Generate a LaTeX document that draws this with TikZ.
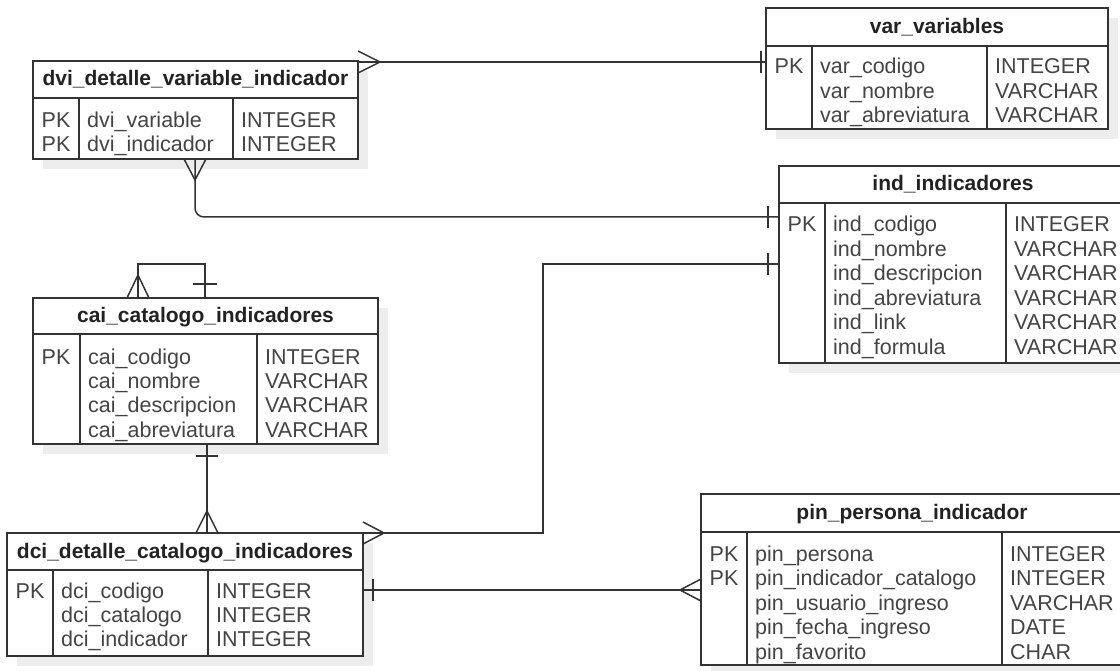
\documentclass[tikz,border=0pt]{standalone}
\usepackage{fontspec}
\setmainfont{Liberation Sans}
\usetikzlibrary{calc}
\definecolor{lc}{HTML}{333333}
\definecolor{hc}{HTML}{222222}
\definecolor{fc}{HTML}{444444}
\definecolor{sc}{HTML}{EDEDED}
\tikzset{
  tblbox/.style={draw=lc, line width=1.6pt, fill=white, inner sep=0pt, outer sep=0pt, rectangle},
  tblline/.style={draw=lc, line width=1.6pt},
  hdr/.style={font=\fontsize{21}{24}\selectfont\bfseries, text=hc, inner sep=0pt, anchor=base},
  fld/.style={font=\fontsize{21.5}{24}\selectfont, text=fc, inner sep=0pt, anchor=base west},
  conn/.style={draw=lc, line width=1.5pt},
}
% #1 name, #2 L, #3 T, #4 R, #5 B, #6 header bottom, #7 divider1, #8 divider2, #9 title
\newcommand\ertable[9]{%
  \fill[sc] (#2+10,#3+10) rectangle (#4+10,#5+10);
  \node[tblbox, anchor=north west, minimum width={#4-#2}, minimum height={#5-#3}] (#1) at (#2,#3) {};
  \draw[tblline] (#2,#6) -- (#4,#6) (#7,#6) -- (#7,#5) (#8,#6) -- (#8,#5);
  \node[hdr] (#1-title) at ({(#2+#4)/2},{(#3+#6)/2+6.5}) {#9};
}
% #1 name, #2 divider1, #3 divider2, #4 first baseline, #5 list name/type
\newcommand\errows[5]{%
  \foreach \nm/\ty [count=\i from 0] in {#5} {
    \node[fld] (#1-f\i) at (#2+8,#4+\i*24.4) {\nm};
    \node[fld] (#1-t\i) at (#3+8,#4+\i*24.4) {\ty};
  }
}
\begin{document}
\begin{tikzpicture}[x=1pt,y=-1pt]
\useasboundingbox (0,0) rectangle (1120,671);
\clip (0,0) rectangle (1120,671);
\fill[white] (0,0) rectangle (1120,671);

% tables
\ertable{dvi}{33}{61}{358}{159}{98}{79}{233}{dvi\_detalle\_variable\_indicador}
\errows{dvi}{79}{233}{127.5}{dvi\_variable/INTEGER, dvi\_indicador/INTEGER}
\node[fld] (dvi-pk0) at (41.5,127.5) {PK};
\node[fld] (dvi-pk1) at (41.5,151.9) {PK};

\ertable{var}{766}{8}{1108}{129}{46}{812}{987}{var\_variables}
\errows{var}{812}{987}{74}{var\_codigo/INTEGER, var\_nombre/VARCHAR, var\_abreviatura/VARCHAR}
\node[fld] (var-pk0) at (774.5,74) {PK};

\ertable{ind}{779}{166}{1127}{363}{203}{825}{1006}{ind\_indicadores}
\errows{ind}{825}{1006}{232}{ind\_codigo/INTEGER, ind\_nombre/VARCHAR, ind\_descripcion/VARCHAR, ind\_abreviatura/VARCHAR, ind\_link/VARCHAR, ind\_formula/VARCHAR}
\node[fld] (ind-pk0) at (787.5,232) {PK};

\ertable{cai}{33}{298}{378}{444}{334}{80}{257}{cai\_catalogo\_indicadores}
\errows{cai}{80}{257}{364}{cai\_codigo/INTEGER, cai\_nombre/VARCHAR, cai\_descripcion/VARCHAR, cai\_abreviatura/VARCHAR}
\node[fld] (cai-pk0) at (41.5,364) {PK};

\ertable{dci}{7}{533}{363}{656}{570}{53}{208}{dci\_detalle\_catalogo\_indicadores}
\errows{dci}{53}{208}{598}{dci\_codigo/INTEGER, dci\_catalogo/INTEGER, dci\_indicador/INTEGER}
\node[fld] (dci-pk0) at (15.5,598) {PK};

\ertable{pin}{701}{494}{1123}{665}{532}{747}{1002}{pin\_persona\_indicador}
\errows{pin}{747}{1002}{561.5}{pin\_persona/INTEGER, pin\_indicador\_catalogo/INTEGER, pin\_usuario\_ingreso/VARCHAR, pin\_fecha\_ingreso/DATE, pin\_favorito/CHAR}
\node[fld] (pin-pk0) at (709.5,561.5) {PK};
\node[fld] (pin-pk1) at (709.5,585.9) {PK};

% 1: dvi -> var
\coordinate (c1a) at ($(dvi.north east)+(0,1)$);
\coordinate (c1b) at (c1a -| var.west);
\draw[conn] (c1a) -- (c1b);
\draw[conn] ($(c1a)+(0,-11)$) -- ($(c1a)+(22,0)$) -- ($(c1a)+(0,11)$);
\draw[conn] ($(c1b)+(-5,-11)$) -- ++(0,22);

% 2: dvi -> ind
\coordinate (c2a) at ($(dvi.south west)+(162,0)$);
\coordinate (c2b) at ($(ind.north west)+(0,51)$);
\draw[conn, rounded corners=9pt] (c2a) |- (c2b);
\draw[conn] ($(c2a)+(-11,0)$) -- ($(c2a)+(0,21)$) -- ($(c2a)+(11,0)$);
\draw[conn] ($(c2b)+(-11,-11)$) -- ++(0,22);

% 3: dci -> ind
\coordinate (c3a) at (dci.north east);
\coordinate (c3b) at ($(ind.north west)+(0,98)$);
\draw[conn] (c3a) -| ($(c3b)+(-236,0)$) -- (c3b);
\draw[conn] ($(c3a)+(0,-11)$) -- ($(c3a)+(21,0)$) -- ($(c3a)+(0,11)$);
\draw[conn] ($(c3b)+(-11,-11)$) -- ++(0,22);

% 4: cai self relation
\coordinate (c4a) at ($(cai.north west)+(105,0)$);
\coordinate (c4b) at ($(cai.north west)+(172,0)$);
\draw[conn] (c4a) -- ++(0,-34) -| (c4b);
\draw[conn] ($(c4a)+(-11,0)$) -- ($(c4a)+(0,-23)$) -- ($(c4a)+(11,0)$);
\draw[conn] ($(c4b)+(-12,-14)$) -- ++(24,0);

% 5: cai -> dci
\coordinate (c5a) at ($(cai.south west)+(174,0)$);
\coordinate (c5b) at (c5a |- dci.north);
\draw[conn] (c5a) -- (c5b);
\draw[conn] ($(c5b)+(-11,0)$) -- ($(c5b)+(0,-22)$) -- ($(c5b)+(11,0)$);
\draw[conn] ($(c5a)+(-11,12)$) -- ++(22,0);

% 6: dci -> pin
\coordinate (c6a) at ($(dci.north east)+(0,57)$);
\coordinate (c6b) at (c6a -| pin.west);
\draw[conn] (c6a) -- (c6b);
\draw[conn] ($(c6a)+(10,-11)$) -- ++(0,22);
\draw[conn] ($(c6b)+(0,-11)$) -- ($(c6b)+(-21,0)$) -- ($(c6b)+(0,11)$);
\end{tikzpicture}
\end{document}
